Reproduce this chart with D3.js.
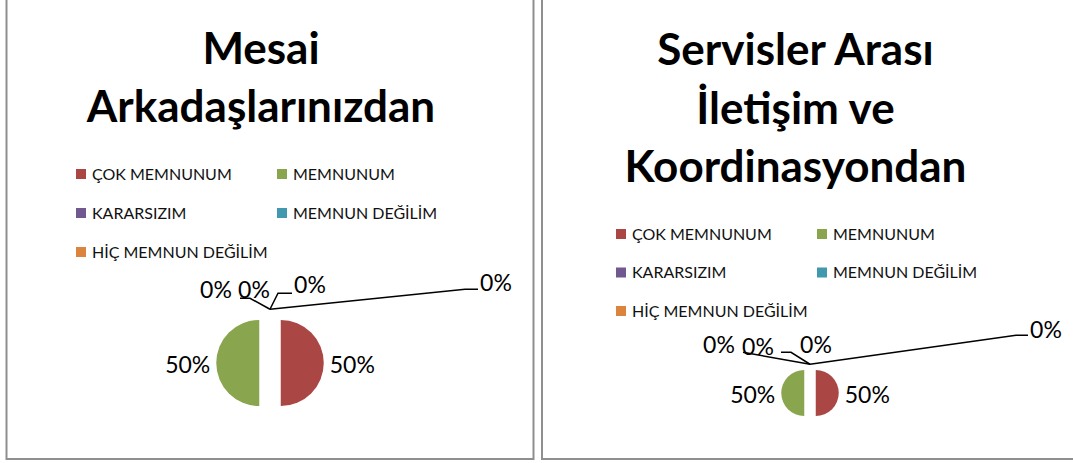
<!DOCTYPE html>
<html>
<head>
<meta charset="utf-8">
<script src="https://cdn.jsdelivr.net/npm/d3@7"></script>
<style>
  body { margin: 0; background: #fff; }
  svg { display: block; }
  text { font-family: Lato, "Open Sans", sans-serif; fill: #000; }
</style>
</head>
<body>
<svg></svg>
<script>
// answer categories, shared by both charts ("" = unnamed point, not in legend)
let categories = ["ÇOK MEMNUNUM", "MEMNUNUM", "KARARSIZIM", "MEMNUN DEĞİLİM", "HİÇ MEMNUN DEĞİLİM", ""];
let colors = ["#AA4643", "#89A54E", "#71588F", "#4198AF", "#DB843D", "#4572A7"];

// chart titles
let mesaiTitle = ["Mesai", "Arkadaşlarınızdan"];
let servisTitle = ["Servisler Arası", "İletişim ve", "Koordinasyondan"];

// values (share of answers)
let mesaiValues = [50, 50, 0, 0, 0, 0];
let servisValues = [50, 50, 0, 0, 0, 0];

let svg = d3.select("svg").attr("width", 1073).attr("height", 463);

let fmt = d3.format(".0%");
let color = d3.scaleOrdinal().domain(categories).range(colors);

// layout for each panel; zero label offsets are relative to the slice anchor
let panels = [
    {
        title: mesaiTitle, values: mesaiValues,
        box: {x: 6.5, y: -3, w: 527, h: 462},
        titleX: 261, titleY: [64, 122],
        legend: {x: 76, y: 174, col: 201, row: 39},
        cx: 270, cy: 363, r: 43,
        zero: [
            {dx: -54, dy: -19, leader: null},
            {dx: -16, dy: -19, leader: [[-20, -11], [-30, -11]]},
            {dx: 40, dy: -24, leader: [[8, -16], [22, -16]]},
            {dx: 226, dy: -26, leader: [[195, -20], [208, -20]]}
        ]
    },
    {
        title: servisTitle, values: servisValues,
        box: {x: 542, y: -3, w: 540, h: 462},
        titleX: 795.5, titleY: [65, 124, 182],
        legend: {x: 616, y: 234, col: 201, row: 38.5},
        cx: 810, cy: 393, r: 23,
        zero: [
            {dx: -91, dy: -19, leader: [[-67, -12]]},
            {dx: -52, dy: -17, leader: [[-19, -12], [-29, -12]]},
            {dx: 6, dy: -19, leader: null},
            {dx: 236, dy: -34, leader: [[206, -29], [218, -29]]}
        ]
    }
];

function drawPanel(p) {
    let g = svg.append("g");

    g.append("rect")
        .attr("x", p.box.x).attr("y", p.box.y)
        .attr("width", p.box.w).attr("height", p.box.h)
        .attr("fill", "#fff")
        .attr("stroke", "#8f8f8f")
        .attr("stroke-width", 2);

    // Title
    g.selectAll(".title")
        .data(p.title)
        .enter().append("text")
        .attr("class", "title")
        .attr("x", p.titleX)
        .attr("y", function(d, i) { return p.titleY[i]; })
        .attr("text-anchor", "middle")
        .style("font-weight", "bold")
        .style("font-size", "44px")
        .text(function(d) { return d; });

    // Legend, two columns
    let named = categories.filter(function(c) { return c !== ""; });
    let item = g.selectAll(".legend")
        .data(named)
        .enter().append("g")
        .attr("class", "legend")
        .attr("transform", function(d, i) {
            return "translate(" + (p.legend.x + (i % 2) * p.legend.col) + "," + (p.legend.y + Math.floor(i / 2) * p.legend.row) + ")";
        });
    item.append("rect")
        .attr("x", 0).attr("y", -5)
        .attr("width", 10).attr("height", 10)
        .attr("fill", function(d) { return color(d); });
    item.append("text")
        .attr("x", 16)
        .attr("dy", "0.36em")
        .style("font-size", "16px")
        .style("fill", "#111")
        .text(function(d) { return d; });

    // Pie, every slice exploded by a quarter of the radius
    let total = d3.sum(p.values);
    let explode = p.r * 0.25;
    let pie = d3.pie().sort(null).value(function(d) { return d.value; });
    let arcs = pie(p.values.map(function(v, i) { return {name: categories[i], value: v}; }));
    let arc = d3.arc().innerRadius(0).outerRadius(p.r);

    function unit(a) {
        let m = (a.startAngle + a.endAngle) / 2;
        return [Math.sin(m), -Math.cos(m)];
    }

    let pg = g.append("g").attr("transform", "translate(" + p.cx + "," + p.cy + ")");

    pg.selectAll(".slice")
        .data(arcs.filter(function(a) { return a.value > 0; }))
        .enter().append("path")
        .attr("class", "slice")
        .attr("transform", function(a) {
            let u = unit(a);
            return "translate(" + u[0] * explode + "," + u[1] * explode + ")";
        })
        .attr("d", arc)
        .attr("fill", function(a) { return color(a.data.name); });

    // labels for non-zero slices sit just outside the slice
    pg.selectAll(".big")
        .data(arcs.filter(function(a) { return a.value > 0; }))
        .enter().append("text")
        .attr("class", "big")
        .attr("x", function(a) { return unit(a)[0] * (p.r + explode + 6); })
        .attr("y", function(a) { return unit(a)[1] * (p.r + explode + 6) + 2; })
        .attr("dy", "0.35em")
        .attr("text-anchor", function(a) { return unit(a)[0] >= 0 ? "start" : "end"; })
        .style("font-size", "23px")
        .text(function(a) { return fmt(a.value / total); });

    // zero slices: labels pushed apart with leader lines to the slice tip
    let zeros = arcs.filter(function(a) { return a.value === 0; });
    zeros.forEach(function(a, i) {
        let u = unit(a);
        let ax = u[0] * (p.r + explode), ay = u[1] * (p.r + explode);
        let lay = p.zero[i];
        if (lay.leader) {
            let pts = [[ax, ay]].concat(lay.leader.map(function(q) { return [ax + q[0], ay + q[1]]; }));
            pg.append("path")
                .attr("d", d3.line()(pts))
                .attr("fill", "none")
                .attr("stroke", "#000")
                .attr("stroke-width", 1.5);
        }
        pg.append("text")
            .attr("x", ax + lay.dx)
            .attr("y", ay + lay.dy)
            .attr("dy", "0.35em")
            .attr("text-anchor", "middle")
            .style("font-size", "23px")
            .text(fmt(a.value / total));
    });
}

panels.forEach(drawPanel);
</script>
</body>
</html>
